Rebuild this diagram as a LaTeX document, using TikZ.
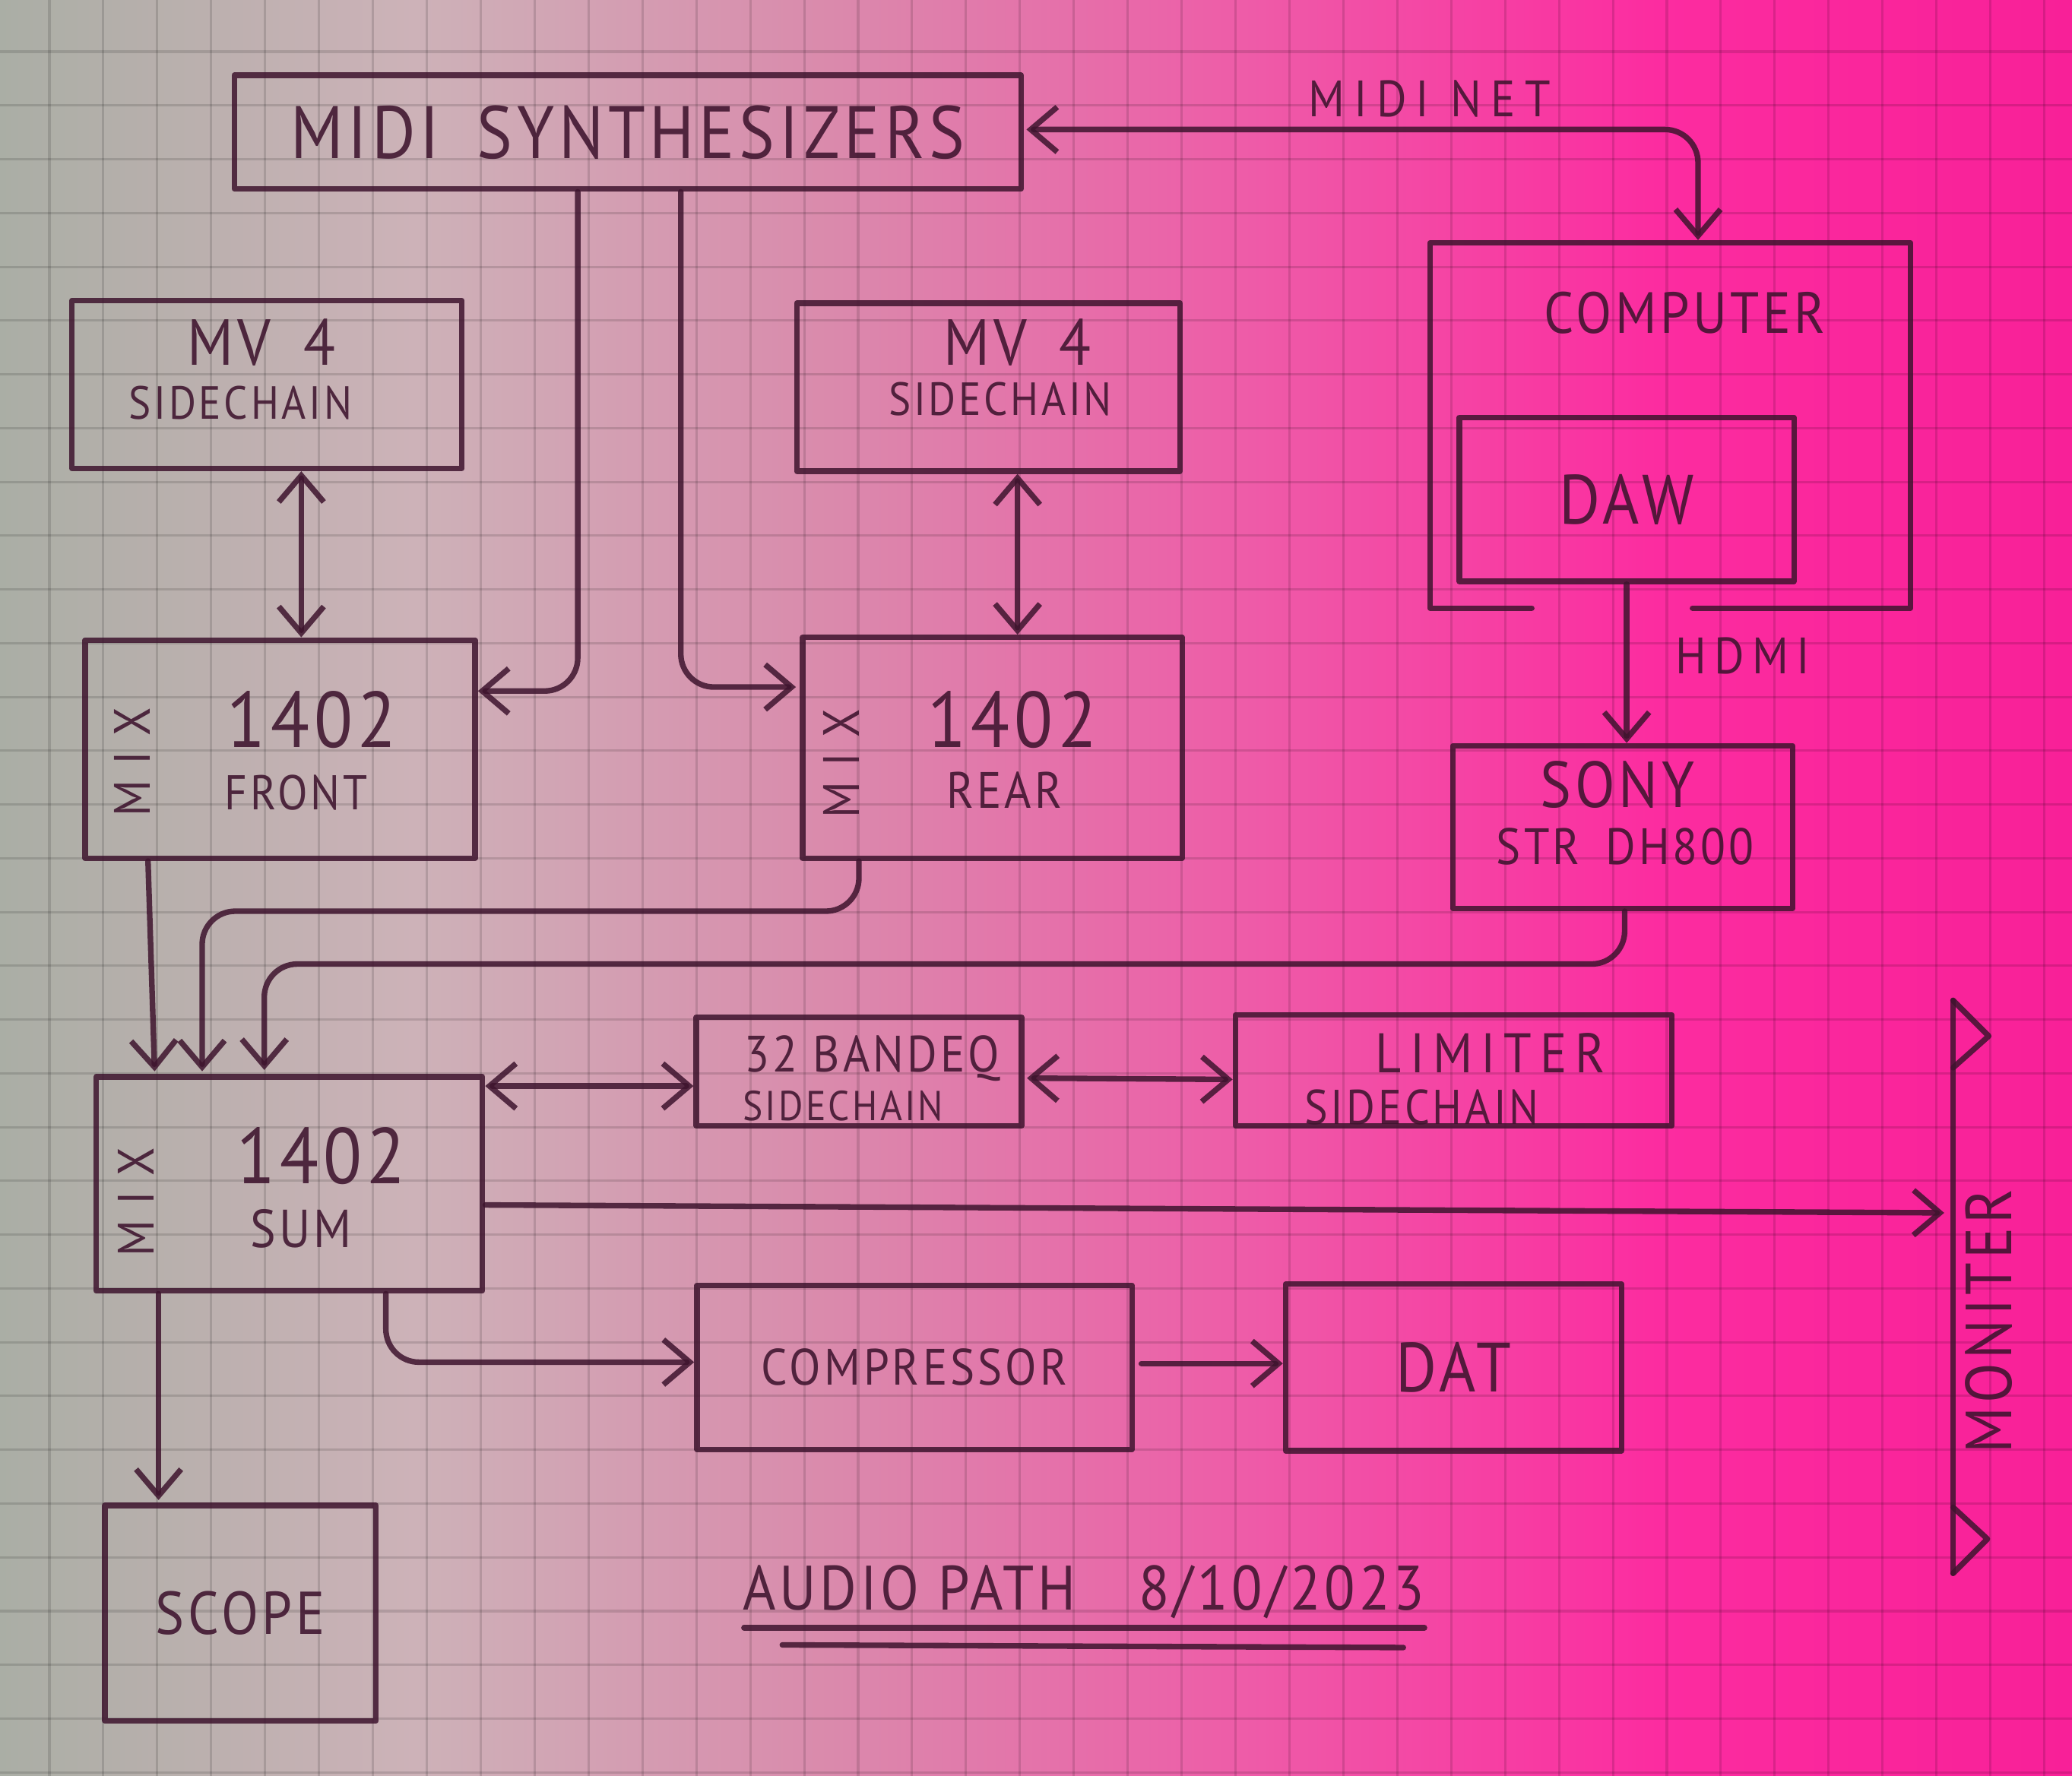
\documentclass[tikz,border=0pt]{standalone}
\usepackage{fontspec}
\setmainfont{PT Sans}[FakeStretch=0.9, LetterSpace=6]
\usepackage{tikz}
\usetikzlibrary{arrows.meta, calc, positioning}
\definecolor{inkc}{RGB}{62,20,46}
\definecolor{paperA}{RGB}{170,174,165}
\definecolor{paperB}{RGB}{205,178,184}
\definecolor{paperC}{RGB}{218,138,172}
\definecolor{paperD}{RGB}{238,92,168}
\definecolor{paperE}{RGB}{252,44,160}
\definecolor{paperF}{RGB}{248,32,152}
\pgfdeclarehorizontalshading{paper}{100bp}{color(0bp)=(paperA); color(25bp)=(paperA);
  color(35bp)=(paperB); color(45bp)=(paperC); color(55bp)=(paperD);
  color(65bp)=(paperE); color(75bp)=(paperF); color(100bp)=(paperF)}
\newcommand{\penfont}[1]{\fontsize{#1}{#1}\selectfont}
\tikzset{>={Straight Barb[length=2mm,width=3.4mm]},
    wire/.style={draw=inkc, draw opacity=0.85, line width=1.2pt, line cap=round, line join=round},
    box/.style={wire, rectangle, inner sep=0pt, text=inkc, text opacity=0.88},
    link/.style={wire, ->},
    bilink/.style={wire, <->},
    curvelink/.style={link, rounded corners=0.25cm},
    gridline/.style={draw=black, draw opacity=0.13, line width=0.5pt},
    hand/.style={text=inkc, text opacity=0.88, inner sep=1pt, font=\penfont{#1}},
    spaced/.style={text=inkc, text opacity=0.88, inner sep=1pt, font=\penfont{11}\addfontfeature{LetterSpace=#1}},
    mixlabel/.style={spaced=30, rotate=90}}
\begin{document}
\begin{tikzpicture}[x=0.01cm, y=-0.01cm]
\shade[shading=paper] (0,0) rectangle (1568,1344);
\useasboundingbox (0,0) rectangle (1568,1344);
% squared paper
\foreach \k in {0,...,37} \draw[gridline] ({37.4+40.8*\k},0) -- ++(0,1344);
\foreach \k in {0,...,32} \draw[gridline] (0,{39.1+40.7*\k}) -- ++(1568,0);

% units
\node[box, minimum width=5.95cm, minimum height=0.86cm, hand=16] (synth)   at (475,100)  {MIDI\enspace SYNTHESIZERS};
\node[box, minimum width=2.95cm, minimum height=1.27cm]         (mvL)      at (202,291)  {};
\node[box, minimum width=2.90cm, minimum height=1.27cm]         (mvR)      at (748,293)  {};
\node[minimum width=3.62cm, minimum height=2.75cm]              (computer) at (1264,322) {};
\node[box, minimum width=2.53cm, minimum height=1.24cm, hand=15] (daw)     at (1231,378) {DAW};
\node[box, minimum width=2.95cm, minimum height=1.65cm]         (front)    at (212,567)  {};
\node[box, minimum width=2.87cm, minimum height=1.67cm]         (rear)     at (751,566)  {};
\node[box, minimum width=2.57cm, minimum height=1.23cm]         (sony)     at (1228,626) {};
\node[box, minimum width=2.92cm, minimum height=1.62cm]         (sum)      at (219,896)  {};
\node[box, minimum width=2.46cm, minimum height=0.82cm]         (eq)       at (650,811)  {};
\node[box, minimum width=3.30cm, minimum height=0.84cm]         (limiter)  at (1100,810) {};
\node[box, minimum width=3.29cm, minimum height=1.24cm, hand=11] (comp)    at (692,1035) {COMPRESSOR};
\node[box, minimum width=2.54cm, minimum height=1.26cm, hand=15] (dat)     at (1100,1035) {DAT};
\node[box, minimum width=2.05cm, minimum height=1.63cm, hand=13] (scope)   at (182,1221) {SCOPE};
\node[minimum width=0cm, minimum height=4.32cm, inner sep=0pt]  (moniter)  at (1478,974) {};

% labels
\node[hand=14]     (mvLname)   at (198,259)  {MV\enspace 4};
\node[hand=10]     (mvLside)   at (182,305)  {SIDECHAIN};
\node[hand=14]     (mvRname)   at (770,259)  {MV\enspace 4};
\node[hand=10]     (mvRside)   at (757,302)  {SIDECHAIN};
\node[hand=12.5]   (compname)  at (1275,237) {COMPUTER};
\node[hand=17]     (frontnum)  at (236,545)  {1402};
\node[hand=10.5]   (frontname) at (224,600)  {FRONT};
\node[mixlabel]    (frontmix)  at (100,577)  {MIX};
\node[hand=17]     (rearnum)   at (766,545)  {1402};
\node[hand=11]     (rearname)  at (760,598)  {REAR};
\node[mixlabel]    (rearmix)   at (637,578)  {MIX};
\node[hand=14]     (sonyname)  at (1224,594) {SONY};
\node[hand=11]     (sonymodel) at (1230,641) {STR\enspace DH800};
\node[hand=17]     (sumnum)    at (243,875)  {1402};
\node[hand=11.5]   (sumname)   at (228,930)  {SUM};
\node[mixlabel]    (summix)    at (103,910)  {MIX};
\node[hand=11]     (eqname)    at (660,801)  {32 BANDEQ};
\node[hand=9]      (eqside)    at (638,837)  {SIDECHAIN};
\node[spaced=15, font=\penfont{12}\addfontfeature{LetterSpace=15}] (limname) at (1128,797) {LIMITER};
\node[hand=10.5]   (limside)   at (1076,838) {SIDECHAIN};
\node[hand=14, rotate=90] (monname) at (1505,1000) {MONITER};
\node[hand=13.5]   (title)     at (820,1205) {AUDIO PATH\enspace\enspace 8/10/2023};

% computer case, open where the HDMI lead leaves
\draw[wire] ($(computer.south west)+(77,0)$) -| (computer.north west) -| (computer.south east) -- ++(-165,0);
% monitor bar
\draw[wire] (moniter.north) -- (moniter.south);
\draw[wire] (moniter.north) -- ++(27,27) -- ++(-27,24);
\draw[wire] ($(moniter.south)+(0,-50)$) -- ++(26,24) -- ++(-26,26);
% underline
\draw[wire] ($(title.center)+(-257,27)$) -- ++(515,0);
\draw[wire] ($(title.center)+(-228,40)$) -- ++(470,2);

% connections
\draw[bilink, rounded corners=0.25cm] ($(synth.east)+(2,-2)$) -| node[pos=0.3, above=1pt, spaced=18] (netlabel) {MIDI NET} ($(computer.north)+(21,-2)$);
\draw[curvelink] ($(synth.south west)+(262,0)$) |- ($(front.east)+(0,-44)$);
\draw[curvelink] ($(synth.south west)+(340,0)$) |- ($(rear.west)+(-3,-46)$);
\draw[curvelink] ($(rear.south)+(-101,0)$) -- ++(0,38) -| ($(sum.north)+(-66,-2)$);
\draw[curvelink] ($(sony.south)+(1.5,0)$) -- ++(0,40) -| ($(sum.north)+(-19,-3)$);
\draw[curvelink] ($(sum.south)+(73,0)$) |- ($(comp.west)+(0,-4)$);

\path
    ($(mvL.south)+(26,0)$)     edge[bilink] ($(front.north)+(16,0)$)
    ($(mvR.south)+(22,0)$)     edge[bilink] ($(rear.north)+(19,0)$)
    (daw.south)                edge[link] node[pos=0.45, right=9pt, spaced=15] (hdmilabel) {HDMI} (daw.south |- sony.north)
    ($(front.south)+(-100,0)$) edge[link]   ($(sum.north)+(-102,-2)$)
    ($(sum.east)+(0,-74)$)     edge[bilink] ($(eq.west)+(0,11)$)
    ($(eq.east)+(2,5)$)        edge[bilink] ($(limiter.west)+(0,7)$)
    ($(sum.east)+(0,16)$)      edge[link]   ($(moniter.west)+(-6,-56)$)
    ($(comp.east)+(5,-3)$)     edge[link]   ($(dat.west)+(0,-3)$)
    ($(sum.south)+(-99,0)$)    edge[link]   ($(scope.north)+(-62,-2)$);
\end{tikzpicture}
\end{document}
